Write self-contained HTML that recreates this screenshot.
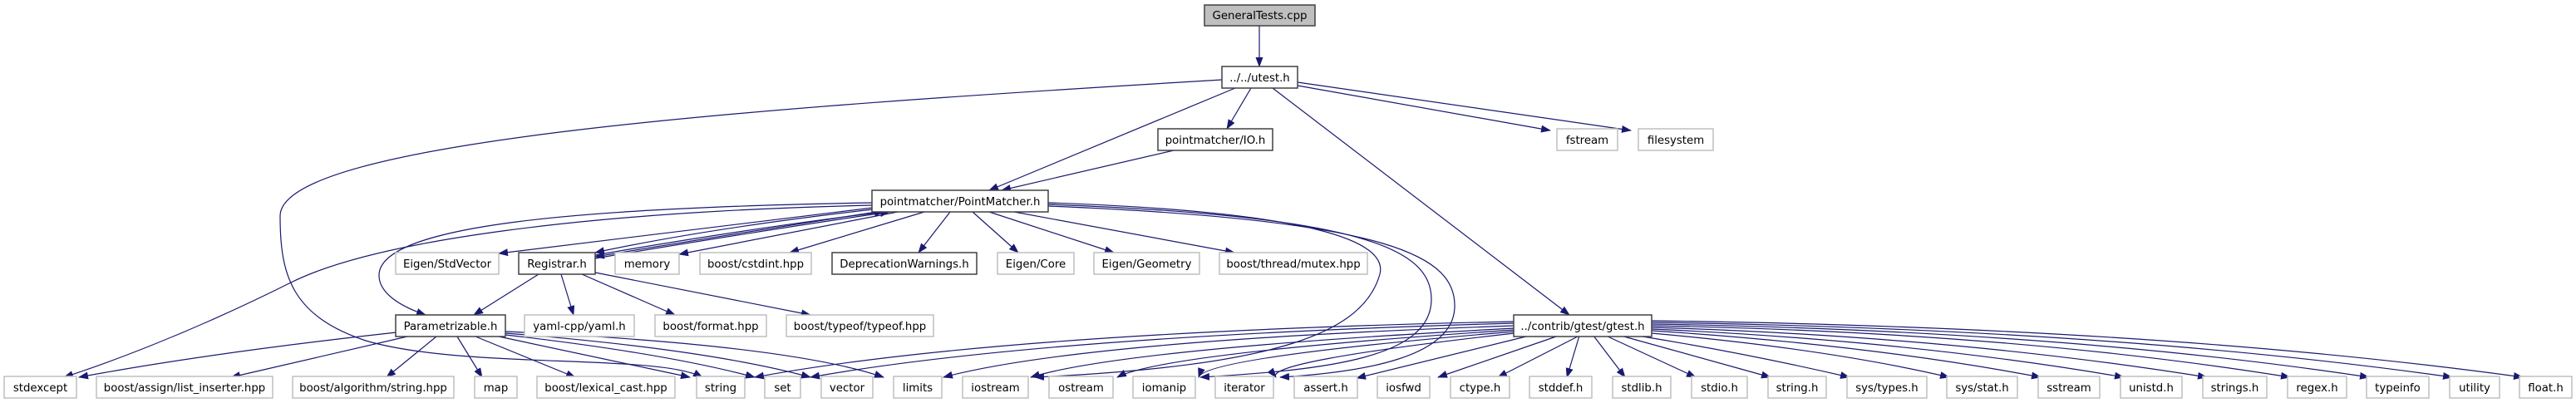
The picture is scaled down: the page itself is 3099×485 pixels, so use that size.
<!DOCTYPE html>
<html><head><meta charset="utf-8"><style>
html,body{margin:0;padding:0;background:#fff;}
svg{display:block;}
text{font-family:"DejaVu Sans","Liberation Sans",sans-serif;font-size:13.3px;fill:#000;text-anchor:middle;}
.g{fill:#fff;stroke:#bfbfbf;stroke-width:1.5;}
.b{fill:#fff;stroke:#404040;stroke-width:1.5;}
.e{fill:none;stroke:#191970;stroke-width:1.2;marker-end:url(#a);}
</style></head><body>
<svg width="3099" height="485" viewBox="0 0 3099 485" xmlns="http://www.w3.org/2000/svg">
<defs><marker id="a" markerWidth="12" markerHeight="9" refX="11" refY="4.5" orient="auto" markerUnits="userSpaceOnUse"><path d="M0,0 L12,4.5 L0,9 z" fill="#191970"/></marker></defs>

<!-- edges -->
<path class="e" d="M1515,31 L1515,80"/>
<path class="e" d="M1486,106 L1190,229"/>
<path class="e" d="M1505,106 L1476,155"/>
<path class="e" d="M1412,181 L1205,229"/>
<path class="e" d="M1531,106 L1888,379"/>
<path class="e" d="M1561,103 L1865,157"/>
<path class="e" d="M1561,99 L1962,157"/>
<path class="e" d="M1470,96 C900,130 337,170 337,260 C337,330 350,380 440,410 C560,445 790,425 845,454"/>

<path class="e" d="M1050,250 L600,305"/>
<path class="e" d="M1050,252 Q850,275 716,304"/>
<path class="e" d="M1055,255 Q860,285 716,309"/>
<path class="e" d="M716,307 Q900,275 1063,255"/>
<path class="e" d="M716,311 Q900,280 1070,255"/>
<path class="e" d="M1080,255 L817,306"/>
<path class="e" d="M1112,255 L950,304"/>
<path class="e" d="M1143,255 L1105,304"/>
<path class="e" d="M1170,255 L1225,304"/>
<path class="e" d="M1190,255 L1340,304"/>
<path class="e" d="M1220,255 L1485,304"/>
<path class="e" d="M1050,247 C700,255 450,290 350,340 C220,405 120,440 77,454"/>
<path class="e" d="M1050,244 C700,250 460,270 456,330 C455,352 480,368 512,379"/>
<path class="e" d="M1261,244 C1580,255 1670,290 1660,330 C1640,400 1540,440 1245,454"/>
<path class="e" d="M1261,246 C1640,260 1722,300 1722,360 C1722,430 1600,445 1444,454"/>
<path class="e" d="M1261,248 C1680,265 1752,310 1750,370 C1748,430 1640,448 1540,454"/>

<path class="e" d="M648,330 L570,379"/>
<path class="e" d="M675,330 L690,379"/>
<path class="e" d="M700,330 L812,379"/>
<path class="e" d="M716,328 L975,379"/>

<path class="e" d="M477,400 Q250,425 95,454"/>
<path class="e" d="M490,405 L278,454"/>
<path class="e" d="M525,405 L465,454"/>
<path class="e" d="M550,405 L580,454"/>
<path class="e" d="M572,405 L692,454"/>
<path class="e" d="M600,405 L830,454"/>
<path class="e" d="M608,403 Q800,425 908,454"/>
<path class="e" d="M608,401 Q850,420 975,454"/>
<path class="e" d="M608,399 Q950,415 1063,454"/>

<path class="e" d="M1822,387 Q1200,400 908,454"/>
<path class="e" d="M1822,389 Q1250,405 975,454"/>
<path class="e" d="M1822,392 Q1300,410 1135,454"/>
<path class="e" d="M1822,395 Q1350,420 1240,454"/>
<path class="e" d="M1822,397 Q1400,425 1344,454"/>
<path class="e" d="M1822,399 Q1450,430 1442,454"/>
<path class="e" d="M1822,401 Q1520,435 1535,454"/>
<path class="e" d="M1840,404 L1632,455"/>
<path class="e" d="M1875,404 L1730,454"/>
<path class="e" d="M1900,404 L1802,454"/>
<path class="e" d="M1900,404 L1885,454"/>
<path class="e" d="M1917,404 L1955,454"/>
<path class="e" d="M1932,404 L2040,454"/>
<path class="e" d="M1950,404 L2130,454"/>
<path class="e" d="M1970,404 Q2100,425 2225,454"/>
<path class="e" d="M1987,401 Q2200,420 2345,454"/>
<path class="e" d="M1987,398 Q2250,415 2455,454"/>
<path class="e" d="M1987,396 Q2300,410 2555,454"/>
<path class="e" d="M1987,394 Q2350,405 2655,454"/>
<path class="e" d="M1987,392 Q2420,400 2755,454"/>
<path class="e" d="M1987,390 Q2480,398 2850,454"/>
<path class="e" d="M1987,388 Q2540,396 2950,454"/>
<path class="e" d="M1987,386 Q2600,394 3035,454"/>

<!-- nodes -->
<rect x="1449" y="6" width="133" height="25" fill="#bfbfbf" stroke="#404040" stroke-width="1.5"/><text x="1515.5" y="23">GeneralTests.cpp</text>
<rect class="b" x="1470" y="80" width="91" height="26"/><text x="1515.5" y="98">../../utest.h</text>
<rect class="b" x="1393" y="155" width="138" height="26"/><text x="1462" y="173">pointmatcher/IO.h</text>
<rect class="g" x="1873" y="155" width="73" height="26"/><text x="1909.5" y="173">fstream</text>
<rect class="g" x="1971" y="155" width="90" height="26"/><text x="2016" y="173">filesystem</text>
<rect class="b" x="1049" y="229" width="212" height="26"/><text x="1155" y="247">pointmatcher/PointMatcher.h</text>

<rect class="g" x="476" y="304" width="124" height="26"/><text x="538" y="322">Eigen/StdVector</text>
<rect class="b" x="624" y="304" width="92" height="26"/><text x="670" y="322">Registrar.h</text>
<rect class="g" x="740" y="304" width="77" height="26"/><text x="778.5" y="322">memory</text>
<rect class="g" x="842" y="304" width="134" height="26"/><text x="909" y="322">boost/cstdint.hpp</text>
<rect class="b" x="1001" y="304" width="174" height="26"/><text x="1088" y="322">DeprecationWarnings.h</text>
<rect class="g" x="1200" y="304" width="92" height="26"/><text x="1246" y="322">Eigen/Core</text>
<rect class="g" x="1316" y="304" width="127" height="26"/><text x="1379.5" y="322">Eigen/Geometry</text>
<rect class="g" x="1467" y="304" width="178" height="26"/><text x="1556" y="322">boost/thread/mutex.hpp</text>

<rect class="b" x="476" y="379" width="132" height="26"/><text x="542" y="397">Parametrizable.h</text>
<rect class="g" x="631" y="379" width="132" height="26"/><text x="697" y="397">yaml-cpp/yaml.h</text>
<rect class="g" x="788" y="379" width="134" height="26"/><text x="855" y="397">boost/format.hpp</text>
<rect class="g" x="946" y="379" width="177" height="26"/><text x="1034.5" y="397">boost/typeof/typeof.hpp</text>
<rect class="b" x="1821" y="379" width="166" height="26"/><text x="1904" y="397">../contrib/gtest/gtest.h</text>

<rect class="g" x="5" y="453" width="87" height="26"/><text x="48.5" y="471">stdexcept</text>
<rect class="g" x="116" y="453" width="212" height="26"/><text x="222" y="471">boost/assign/list_inserter.hpp</text>
<rect class="g" x="352" y="453" width="194" height="26"/><text x="449" y="471">boost/algorithm/string.hpp</text>
<rect class="g" x="571" y="453" width="51" height="26"/><text x="596.5" y="471">map</text>
<rect class="g" x="646" y="453" width="166" height="26"/><text x="729" y="471">boost/lexical_cast.hpp</text>
<rect class="g" x="838" y="453" width="58" height="26"/><text x="867" y="471">string</text>
<rect class="g" x="920" y="453" width="43" height="26"/><text x="941.5" y="471">set</text>
<rect class="g" x="988" y="453" width="62" height="26"/><text x="1019" y="471">vector</text>
<rect class="g" x="1075" y="453" width="58" height="26"/><text x="1104" y="471">limits</text>
<rect class="g" x="1158" y="453" width="79" height="26"/><text x="1197.5" y="471">iostream</text>
<rect class="g" x="1262" y="453" width="77" height="26"/><text x="1300.5" y="471">ostream</text>
<rect class="g" x="1363" y="453" width="75" height="26"/><text x="1400.5" y="471">iomanip</text>
<rect class="g" x="1462" y="453" width="70" height="26"/><text x="1497" y="471">iterator</text>
<rect class="g" x="1557" y="453" width="76" height="26"/><text x="1595" y="471">assert.h</text>
<rect class="g" x="1657" y="453" width="63" height="26"/><text x="1688.5" y="471">iosfwd</text>
<rect class="g" x="1745" y="453" width="71" height="26"/><text x="1780.5" y="471">ctype.h</text>
<rect class="g" x="1840" y="453" width="75" height="26"/><text x="1877.5" y="471">stddef.h</text>
<rect class="g" x="1940" y="453" width="70" height="26"/><text x="1975" y="471">stdlib.h</text>
<rect class="g" x="2035" y="453" width="67" height="26"/><text x="2068.5" y="471">stdio.h</text>
<rect class="g" x="2127" y="453" width="70" height="26"/><text x="2162" y="471">string.h</text>
<rect class="g" x="2222" y="453" width="96" height="26"/><text x="2270" y="471">sys/types.h</text>
<rect class="g" x="2342" y="453" width="85" height="26"/><text x="2384.5" y="471">sys/stat.h</text>
<rect class="g" x="2452" y="453" width="74" height="26"/><text x="2489" y="471">sstream</text>
<rect class="g" x="2551" y="453" width="74" height="26"/><text x="2588" y="471">unistd.h</text>
<rect class="g" x="2650" y="453" width="77" height="26"/><text x="2688.5" y="471">strings.h</text>
<rect class="g" x="2752" y="453" width="71" height="26"/><text x="2787.5" y="471">regex.h</text>
<rect class="g" x="2847" y="453" width="75" height="26"/><text x="2884.5" y="471">typeinfo</text>
<rect class="g" x="2947" y="453" width="60" height="26"/><text x="2977" y="471">utility</text>
<rect class="g" x="3031" y="453" width="63" height="26"/><text x="3062.5" y="471">float.h</text>
</svg>
</body></html>
